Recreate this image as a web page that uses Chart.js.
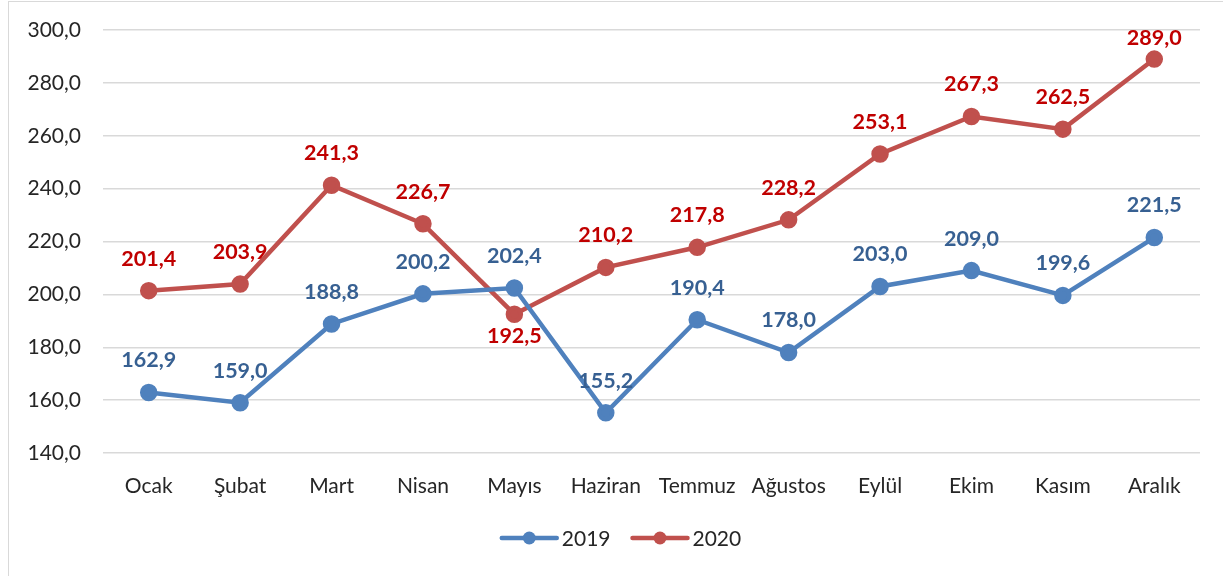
<!DOCTYPE html>
<html>
<head>
<meta charset="utf-8">
<script src="https://cdn.jsdelivr.net/npm/chart.js@4/dist/chart.umd.min.js"></script>
<style>
  html, body { margin: 0; padding: 0; background: #fff; }
  #wrap { position: relative; width: 1223px; height: 576px; }
  #frame { position: absolute; left: 8px; top: 1px; width: 1230px; height: 600px; border: 1px solid #d9d9d9; pointer-events: none; }
</style>
</head>
<body>
<div id="wrap">
  <canvas id="chart" width="1223" height="576"></canvas>
  <div id="frame"></div>
</div>
<script>
// --- data ---
const months = ['Ocak', 'Şubat', 'Mart', 'Nisan', 'Mayıs', 'Haziran', 'Temmuz', 'Ağustos', 'Eylül', 'Ekim', 'Kasım', 'Aralık'];
const values2019 = [162.9, 159.0, 188.8, 200.2, 202.4, 155.2, 190.4, 178.0, 203.0, 209.0, 199.6, 221.5];
const values2020 = [201.4, 203.9, 241.3, 226.7, 192.5, 210.2, 217.8, 228.2, 253.1, 267.3, 262.5, 289.0];
const yMin = 140, yMax = 300, yStep = 20;

const FONT = 'Lato, "Open Sans", sans-serif';
const fmt = v => v.toFixed(1).replace('.', ',');

// value labels over the points (no datalabels plugin available)
const valueLabels = {
  id: 'valueLabels',
  afterDatasetsDraw(chart) {
    const ctx = chart.ctx;
    const top = chart.chartArea.top + 8;
    ctx.save();
    ctx.font = 'bold 21.5px ' + FONT;
    ctx.textAlign = 'center';
    ctx.textBaseline = 'middle';
    chart.data.datasets.forEach((ds, i) => {
      const meta = chart.getDatasetMeta(i);
      const below = ds.labelBelow || [];
      ctx.fillStyle = ds.labelColor;
      meta.data.forEach((pt, j) => {
        const dy = below.includes(j) ? 22 : -32;
        // keep labels inside the plot like Excel does
        ctx.fillText(fmt(ds.data[j]), pt.x, Math.max(top, pt.y + dy));
      });
    });
    ctx.restore();
  }
};

// legend drawn as line + marker like the original
const lineLegend = {
  id: 'lineLegend',
  afterDraw(chart) {
    const ctx = chart.ctx;
    const y = 538;
    const items = chart.data.datasets;
    ctx.save();
    ctx.font = '21px ' + FONT;
    ctx.textBaseline = 'middle';
    const lineW = 55, gap = 5, sep = 22;
    const widths = items.map(d => lineW + gap + ctx.measureText(d.label).width);
    let total = widths.reduce((a, b) => a + b, 0) + sep * (items.length - 1);
    let x = 621.5 - total / 2;
    items.forEach((d, i) => {
      ctx.strokeStyle = d.borderColor;
      ctx.lineWidth = 4.5;
      ctx.lineCap = 'round';
      ctx.beginPath();
      ctx.moveTo(x, y);
      ctx.lineTo(x + lineW, y);
      ctx.stroke();
      ctx.fillStyle = d.borderColor;
      ctx.beginPath();
      ctx.arc(x + lineW / 2, y, 6.5, 0, Math.PI * 2);
      ctx.fill();
      ctx.fillStyle = '#262626';
      ctx.fillText(d.label, x + lineW + gap, y + 1);
      x += widths[i] + sep;
    });
    ctx.restore();
  }
};

new Chart(document.getElementById('chart'), {
  type: 'line',
  data: {
    labels: months,
    datasets: [
      { label: '2019', data: values2019, borderColor: '#4f81bd', backgroundColor: '#4f81bd', labelColor: '#376092',
        borderWidth: 4.5, pointRadius: 6.5, pointHoverRadius: 6.5, tension: 0 },
      { label: '2020', data: values2020, borderColor: '#c0504d', backgroundColor: '#c0504d', labelColor: '#c00000',
        borderWidth: 4.5, pointRadius: 6.5, pointHoverRadius: 6.5, tension: 0, labelBelow: [4] },
    ],
  },
  options: {
    responsive: false,
    animation: false,
    events: [],
    layout: { padding: { top: 30, right: 23, left: 0, bottom: 0 } },
    plugins: { legend: { display: false }, tooltip: { enabled: false } },
    scales: {
      x: {
        offset: true,
        grid: { display: false },
        border: { display: false },
        ticks: { color: '#262626', font: { family: FONT, size: 21 }, padding: 13, maxRotation: 0, autoSkip: false },
        afterFit: s => { s.height = 123; },
      },
      y: {
        min: yMin, max: yMax,
        grid: { color: '#d9d9d9', lineWidth: 1.5, drawTicks: false },
        border: { display: false },
        ticks: { stepSize: yStep, color: '#262626', font: { family: FONT, size: 21 }, padding: 22, callback: v => fmt(v) },
        afterFit: s => { s.width = 103; s.paddingTop = 0; s.paddingBottom = 0; },
      },
    },
  },
  plugins: [valueLabels, lineLegend],
});
</script>
</body>
</html>
